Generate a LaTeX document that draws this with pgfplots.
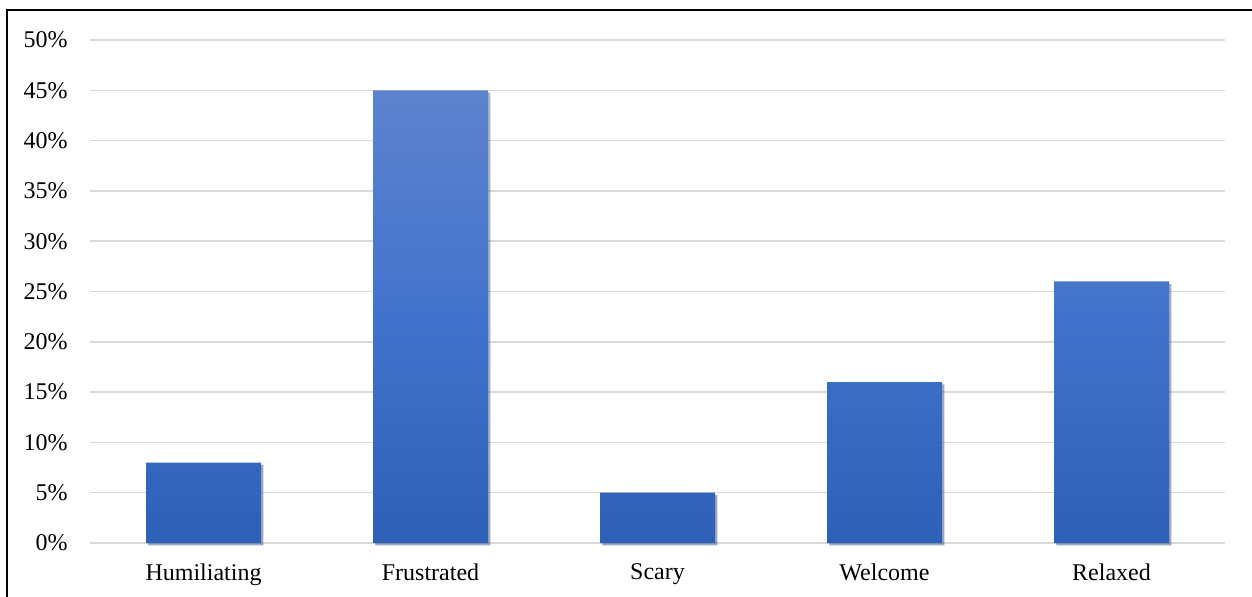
\documentclass[border=0pt]{standalone}
\usepackage{pgfplots}
\pgfplotsset{compat=1.18}
\usepackage{fontspec}
\setmainfont{Liberation Serif}
\usetikzlibrary{shadows}
\definecolor{bartop}{RGB}{94,131,206}
\definecolor{barmid}{RGB}{66,115,204}
\definecolor{barbot}{RGB}{47,96,184}
\definecolor{gridc}{RGB}{217,217,217}
\begin{document}
\begin{tikzpicture}
\fontsize{12}{14}\selectfont
\begin{axis}[
  at={(45pt,26.5pt)}, anchor=south west,
  scale only axis, width=567.5pt, height=251.5pt,
  xmin=-0.5, xmax=4.5, ymin=0, ymax=50,
  axis x line*=bottom, axis y line*=left,
  x axis line style={draw=gridc, line width=1pt},
  y axis line style={draw=none},
  ymajorgrids, grid style={draw=gridc, line width=0.75pt},
  ytick={0,5,10,15,20,25,30,35,40,45,50},
  yticklabels={0\%,5\%,10\%,15\%,20\%,25\%,30\%,35\%,40\%,45\%,50\%},
  xtick=data, xticklabels={Humiliating,Frustrated,Scary,Welcome,Relaxed},
  major tick length=0pt,
  tick style={draw=none},
  tick label style={font=\fontsize{12}{14}\selectfont},
  yticklabel style={anchor=east, xshift=-7pt},
  xticklabel style={yshift=-6pt},
  clip=false,
]
\addplot[ybar, bar width=57.5pt, draw=none, top color=bartop, bottom color=barbot, middle color=barmid,
  drop shadow={shadow xshift=1.2pt, shadow yshift=-1.2pt, opacity=0.3, fill=black!70}]
  coordinates {(0,8) (1,45) (2,5) (3,16) (4,26)};
\end{axis}
\draw[line width=1pt] (3.5pt,-20pt) rectangle (700pt,293pt);
\pgfresetboundingbox
\useasboundingbox (0,0) rectangle (626pt,298pt);
\end{tikzpicture}
\end{document}
